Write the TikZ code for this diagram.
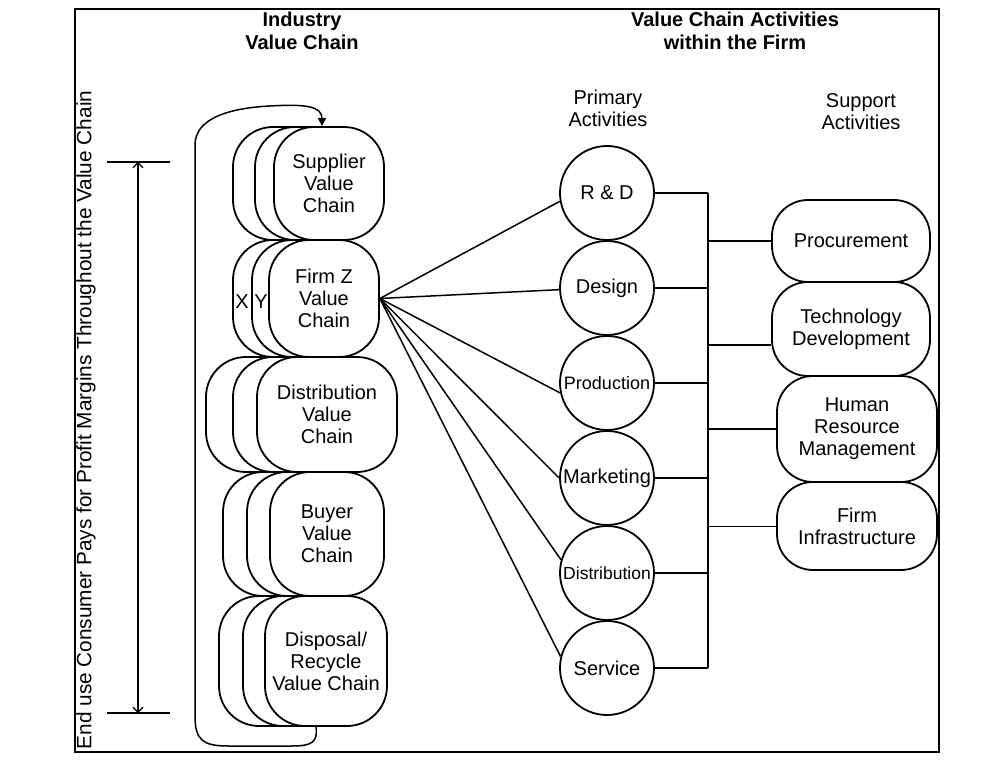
\documentclass[tikz,border=0pt]{standalone}
\usepackage{fontspec}
\setmainfont{Liberation Sans}
\usetikzlibrary{arrows.meta,calc}

% a stacked value chain: two offset copies behind the labelled front box
\newcommand\chainstack[8]{%
  \node[chainbox, minimum width=#4pt, minimum height=#5pt] (#1-b) at ({#2-#7},#3) {};
  \node[chainbox, minimum width=#4pt, minimum height=#5pt] (#1-m) at ({#2-#6},#3) {};
  \node[chainbox, txt, minimum width=#4pt, minimum height=#5pt] (#1) at (#2,#3) {#8};
}

\begin{document}
\begin{tikzpicture}[x=1pt, y=-1pt,
  txt/.style={font=\fontsize{20}{22}\selectfont, align=center},
  head/.style={font=\bfseries\fontsize{20}{23}\selectfont, align=center},
  chainbox/.style={draw, line width=1.8pt, fill=white, rounded corners=40pt, inner sep=0pt},
  prim/.style={circle, draw, line width=1.8pt, minimum size=94pt, inner sep=0pt,
    font=\fontsize{20}{22}\selectfont},
  supp/.style={draw, line width=1.8pt, rounded corners=36pt, inner sep=0pt, txt},
  link/.style={line width=1.5pt},
  thinlink/.style={line width=0.9pt}]

\useasboundingbox (0,0) rectangle (994,767);

% outer frame
\draw[line width=2.4pt] (75,9) rectangle (939,752);

% headings
\node[head] (hind) at (302,30.5) {Industry\\Value Chain};
\node[head] (hfirm) at (735,30.5) {Value Chain Activities\\within the Firm};
\node[txt] (hprim) at (608,108.5) {Primary\\Activities};
\node[txt] (hsupp) at (861,111.5) {Support\\Activities};

% side caption
\node[font=\fontsize{20.8}{22}\selectfont, rotate=90, inner sep=0pt] (cap) at (86,420)
  {End use Consumer Pays for Profit Margins Throughout the Value Chain};

% extent of the industry value chain
\coordinate (dimtop) at (138,162);
\coordinate (dimbot) at (138,713);
\coordinate (bartl) at (107,162);
\coordinate (bartr) at (170,162);
\coordinate (barbl) at (107,713);
\coordinate (barbr) at (170,713);
\draw[line width=1.6pt] (bartl) -- (bartr);
\draw[line width=1.6pt] (barbl) -- (barbr);
\draw[line width=1.2pt, {Straight Barb[length=5pt,width=10pt]}-{Straight Barb[length=5pt,width=10pt]}]
  (dimtop) -- (dimbot);

% industry value chain
\chainstack{sup}{329}{183.5}{110}{113}{19}{41}{Supplier\\Value\\Chain}
\chainstack{firm}{324}{298.5}{110}{117}{17}{36}{Firm Z\\Value\\Chain}
\chainstack{dist}{327}{414.5}{140}{115}{24}{51}{Distribution\\Value\\Chain}
\chainstack{buy}{327}{534}{114}{124}{23}{47}{Buyer\\Value\\Chain}
\chainstack{dis}{326}{661}{122}{130}{22}{46}{Disposal/\\Recycle\\Value Chain}
\node[txt] (lx) at (242,302) {X};
\node[txt] (ly) at (261,302) {Y};

% recycling loop back to the supplier
\coordinate (loopstart) at ($(dis.south)+(-10,0)$);
\coordinate (loopend) at ($(sup.north)+(-7,0)$);
\draw[link, -{Triangle[length=8pt,width=8pt]}] (loopstart)
  .. controls (318,742) and (312,746) .. (292,746) -- (228,746)
  .. controls (203,746) and (195,740) .. (195,716) -- (195,145)
  .. controls (195,118) and (230,108) .. (270,106)
  .. controls (305,104) and (322,106) .. (loopend);

% primary activities
\node[prim] (rd) at (607,193) {R \& D};
\node[prim] (des) at (607,288) {Design};
\node[prim, font=\fontsize{18}{20}\selectfont] (prod) at (607,383) {Production};
\node[prim] (mkt) at (607,478) {Marketing};
\node[prim, font=\fontsize{17.5}{20}\selectfont] (pdist) at (607,573) {Distribution};
\node[prim] (serv) at (607,668) {Service};

% Firm Z fans out to each primary activity
\draw[link] (firm.east) -- (rd.190);
\draw[link] (firm.east) -- (des.182);
\draw[link] (firm.east) -- (prod.192);
\draw[link] (firm.east) -- (mkt.180);
\draw[link] (firm.east) -- (pdist.164);
\draw[link] (firm.east) -- (serv.166);

% support activities
\node[supp, minimum width=158pt, minimum height=82pt] (proc) at (851,241) {Procurement};
\node[supp, minimum width=158pt, minimum height=94pt] (tech) at (851,329) {Technology\\Development};
\node[supp, minimum width=160pt, minimum height=106pt] (hrm) at (857,429) {Human\\Resource\\Management};
\node[supp, minimum width=160pt, minimum height=88pt] (infra) at (857,526) {Firm\\Infrastructure};

% bus joining primary and support activities
\coordinate (busx) at (708,193);
\draw[link] (rd.east) -- (rd.east -| busx);
\draw[link] (des.east) -- (des.east -| busx);
\draw[link] (prod.east) -- (prod.east -| busx);
\draw[link] (mkt.east) -- (mkt.east -| busx);
\draw[link] (pdist.east) -- (pdist.east -| busx);
\draw[link] (serv.east) -- (serv.east -| busx);
\draw[link] (rd.east -| busx) -- (serv.east -| busx);
\draw[link] (proc.west) -- (proc.west -| busx);
\draw[link] ($(tech.west)+(0,16)$) -- ($(tech.west -| busx)+(0,16)$);
\draw[link] (hrm.west) -- (hrm.west -| busx);
\draw[thinlink] (infra.west) -- (infra.west -| busx);

\end{tikzpicture}
\end{document}
